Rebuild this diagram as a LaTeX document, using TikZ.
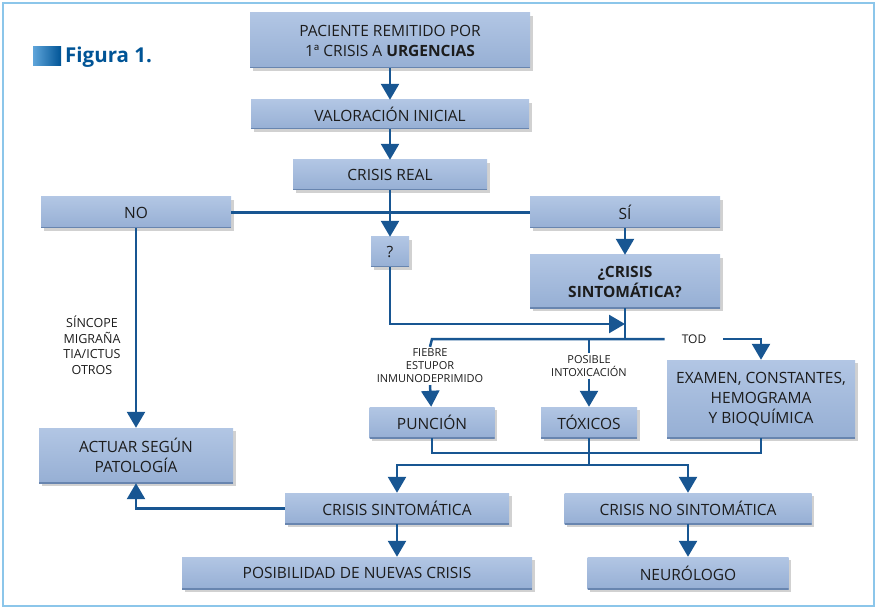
\documentclass[tikz,border=0pt]{standalone}
\usepackage{fontspec}
\setmainfont{Open Sans}
\usetikzlibrary{arrows.meta,shadows}
\definecolor{boxtop}{RGB}{178,198,228}
\definecolor{boxbot}{RGB}{150,175,212}
\definecolor{boxedge}{RGB}{104,133,175}
\definecolor{flowblue}{RGB}{24,86,146}
\definecolor{frameblue}{RGB}{140,198,234}
\definecolor{figblue}{RGB}{0,84,150}
\definecolor{figlight}{RGB}{95,165,218}
\definecolor{txtgray}{RGB}{28,28,28}
\newcommand{\boxsize}{\fontsize{15.5}{20}\selectfont}
\newcommand{\notesize}{\fontsize{11}{13}\selectfont}

\begin{document}
\begin{tikzpicture}[x=1pt,y=-1pt]
  \tikzstyle{box}=[rectangle,inner sep=0pt,align=center,text=txtgray,
    top color=boxtop,bottom color=boxbot,font=\boxsize,
    drop shadow={shadow xshift=2.5pt,shadow yshift=-3pt,fill=black,opacity=0.18},
    path picture={\draw[boxedge,line width=1.5pt] (path picture bounding box.south west) -- (path picture bounding box.south east);}]
  \tikzstyle{note}=[align=center,inner sep=2pt,text=txtgray,font=\notesize]
  \tikzstyle{link}=[draw=flowblue,line width=2.5pt]
  \tikzstyle{linkarrow}=[link,-{Triangle[width=18pt,length=16pt]}]
  \useasboundingbox (0,0) rectangle (877,609);
  \draw[frameblue,line width=2pt] (3,3) rectangle (874,606);

  % title
  \node[left color=figlight,right color=figblue,minimum width=28pt,minimum height=19pt,inner sep=0pt] (figmark) at (47,56.5) {};
  \node[anchor=west,inner sep=0pt,text=figblue,font=\fontsize{20.5}{24}\selectfont\bfseries] (figtitle) at (65,57) {Figura 1.};

  \node[box,minimum width=280pt,minimum height=55pt] (paciente) at (390,40.5) {PACIENTE REMITIDO POR\\1ª CRISIS A \textbf{URGENCIAS}};
  \node[box,minimum width=278pt,minimum height=29pt] (valoracion) at (390,114.5) {VALORACIÓN INICIAL};
  \node[box,minimum width=194pt,minimum height=30pt] (real) at (390,175) {CRISIS REAL};
  \node[box,minimum width=190pt,minimum height=31pt] (no) at (136,212.5) {NO};
  \node[box,minimum width=190pt,minimum height=31pt] (si) at (625,212.5) {SÍ};
  \node[box,minimum width=38pt,minimum height=30pt] (duda) at (390,252) {?};
  \node[box,minimum width=190pt,minimum height=53pt,font=\boxsize\bfseries] (sintq) at (625,281.5) {¿CRISIS\\SINTOMÁTICA?};

  \node[note,font=\fontsize{12.5}{15.5}\selectfont] (causas) at (92,345) {SÍNCOPE\\MIGRAÑA\\TIA/ICTUS\\OTROS};
  \node[note] (notep) at (430,366) {FIEBRE\\ESTUPOR\\INMUNODEPRIMIDO};
  \node[note] (notet) at (589,366) {POSIBLE\\INTOXICACIÓN};
  \node[note,inner xsep=17pt,font=\fontsize{12}{14}\selectfont] (tod) at (694,339) {TOD};

  \node[box,minimum width=188pt,minimum height=78pt] (examen) at (761,399) {EXAMEN, CONSTANTES,\\HEMOGRAMA\\Y BIOQUÍMICA};
  \node[box,minimum width=125pt,minimum height=31pt] (puncion) at (432,422.5) {PUNCIÓN};
  \node[box,minimum width=96pt,minimum height=31pt] (toxicos) at (589,422.5) {TÓXICOS};
  \node[box,minimum width=194pt,minimum height=55pt] (actuar) at (136,455.5) {ACTUAR SEGÚN\\PATOLOGÍA};
  \node[box,minimum width=224pt,minimum height=31pt] (csint) at (397,508.5) {CRISIS SINTOMÁTICA};
  \node[box,minimum width=247pt,minimum height=31pt] (cnosint) at (688,508.5) {CRISIS NO SINTOMÁTICA};
  \node[box,minimum width=350pt,minimum height=32pt] (posibilidad) at (357,573) {POSIBILIDAD DE NUEVAS CRISIS};
  \node[box,minimum width=201pt,minimum height=32pt] (neurologo) at (688,573) {NEURÓLOGO};

  \coordinate (join) at (625,324);
  \coordinate (branch) at (625,339);
  \coordinate (forkp) at (432,339);
  \coordinate (forkt) at (589,339);
  \coordinate (merge) at (589,453);
  \coordinate (split) at (589,465);

  \draw[linkarrow] (paciente) -- (valoracion);
  \draw[linkarrow] (valoracion) -- (real);
  \draw[link] (no) -- (si);
  \draw[linkarrow] (real) -- (duda);
  \draw[linkarrow] (no) -- (actuar);
  \draw[linkarrow] (si) -- (sintq);
  \draw[linkarrow] (duda) |- (join);
  \draw[link] (sintq) -- (branch);
  \draw[link] (tod.west) -- (forkp) -- (notep.north);
  \draw[link] (forkt) -- (notet.north);
  \draw[linkarrow] (notep.south) -- (puncion);
  \draw[linkarrow] (notet.south) -- (toxicos);
  \draw[linkarrow] (tod.east) -| (examen);
  \draw[link] (puncion) |- (merge) -| (examen);
  \draw[link] (toxicos) -- (split);
  \draw[linkarrow] (split) -| (csint);
  \draw[linkarrow] (split) -| (cnosint);
  \draw[linkarrow] (csint) -| (actuar);
  \draw[linkarrow] (csint) -- (csint |- posibilidad.north);
  \draw[linkarrow] (cnosint) -- (neurologo);

\end{tikzpicture}
\end{document}
